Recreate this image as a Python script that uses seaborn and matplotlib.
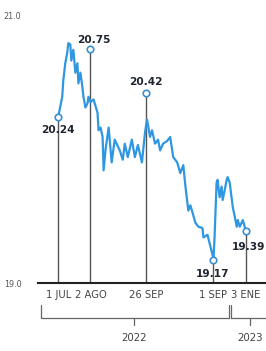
import matplotlib
matplotlib.use("Agg")
import matplotlib.pyplot as plt
import seaborn as sns
import pandas as pd
import numpy as np

# ---- data ----
days_from_jul1 = [0, 4, 5, 7, 9, 10, 12, 13, 15, 17, 19, 20, 22, 24, 25, 27, 29, 30, 32, 35,
                  39, 40, 42, 44, 45, 47, 50, 53, 56, 61, 64, 66, 69, 73, 76, 79, 83, 86, 88,
                  89, 91, 93, 96, 99, 101, 104, 108, 111, 114, 118, 121, 124, 126, 129, 131,
                  133, 136, 139, 143, 144, 148, 150, 153, 154, 155, 157, 158, 160, 162, 163,
                  165, 167, 168, 170, 173, 177, 178, 180, 183, 186]
rate = [20.24, 20.39, 20.51, 20.64, 20.72, 20.79, 20.78, 20.66, 20.74, 20.57, 20.64, 20.49,
        20.57, 20.46, 20.39, 20.31, 20.34, 20.39, 20.35, 20.37, 20.27, 20.14, 20.16, 20.09,
        19.84, 20.00, 20.16, 19.90, 20.07, 19.99, 19.92, 20.04, 19.94, 20.07, 19.94, 20.03,
        19.90, 20.12, 20.22, 20.18, 20.09, 20.14, 20.04, 20.07, 19.99, 20.04, 20.06, 20.09,
        19.94, 19.90, 19.82, 19.88, 19.73, 19.54, 19.58, 19.53, 19.45, 19.42, 19.41, 19.34,
        19.36, 19.30, 19.21, 19.19, 19.34, 19.75, 19.77, 19.64, 19.72, 19.62, 19.69, 19.77,
        19.79, 19.75, 19.57, 19.42, 19.47, 19.42, 19.47, 19.39]

marker_dates = ["2022-07-01", "2022-08-02", "2022-09-26", "2022-12-01", "2023-01-03"]
marker_values = [20.24, 20.75, 20.42, 19.17, 19.39]
marker_labels = ["20.24", "20.75", "20.42", "19.17", "19.39"]
tick_labels = ["1 JUL", "2 AGO", "26 SEP", "1 SEP", "3 ENE"]
y_ticks = [19.0, 21.0]
y_tick_labels = ["19.0", "21.0"]
years = ["2022", "2023"]

start = pd.Timestamp("2022-07-01")
df = pd.DataFrame({"fecha": start + pd.to_timedelta(days_from_jul1, unit="D"), "tc": rate})
mk = pd.DataFrame({"fecha": pd.to_datetime(marker_dates), "tc": marker_values})

sns.set_style("white")
plt.rcParams["font.family"] = ["DejaVu Sans"]

fig = plt.figure(figsize=(2.66, 3.51), dpi=100)
ax = fig.add_axes([0.143, 0.1937, 0.857, 0.7635])

# vertical drop lines
for d, v in zip(mk["fecha"], mk["tc"]):
    ax.plot([d, d], [19.0, v], color="#555555", lw=1.0, zorder=2)

sns.lineplot(data=df, x="fecha", y="tc", ax=ax, color="#2f97e2", lw=1.6, zorder=3)
sns.scatterplot(data=mk, x="fecha", y="tc", ax=ax, s=22, facecolor="white",
                edgecolor="#3a8fd0", linewidth=1.2, zorder=4)

# annotation labels
offsets = [(0, -13), (3, 9), (0, 11), (0, -14), (3, -16)]
for (d, v), lab, (dx, dy) in zip(zip(mk["fecha"], mk["tc"]), marker_labels, offsets):
    ax.annotate(lab, (d, v), xytext=(dx, dy), textcoords="offset pixels",
                ha="center", va="center", fontsize=7.6, fontweight="bold",
                color="#1e2530", zorder=5)

ax.set_xlim(start - pd.Timedelta(days=20), start + pd.Timedelta(days=206))
ax.set_ylim(19.0, 21.0)
ax.set_yticks(y_ticks)
ax.set_yticklabels(y_tick_labels, fontsize=5.8, color="#555555")
ax.set_xticks(mk["fecha"])
ax.set_xticklabels(tick_labels, fontsize=7.2, color="#444444")
ax.tick_params(axis="both", length=0)
ax.tick_params(axis="y", pad=12)
ax.tick_params(axis="x", pad=5)
ax.set_xlabel("")
ax.set_ylabel("")
for s in ["top", "right", "left"]:
    ax.spines[s].set_visible(False)
ax.spines["bottom"].set_color("#222222")
ax.spines["bottom"].set_linewidth(1.5)
ax.grid(False)

# year braces
tr = ax.get_xaxis_transform()
brace_col = "#666666"
y_top, y_bot, y_mid = -0.082, -0.13, -0.157
spans = [(start - pd.Timedelta(days=17), pd.Timestamp("2022-12-17")),
         (pd.Timestamp("2022-12-19"), start + pd.Timedelta(days=215))]
centers = [pd.Timestamp("2022-09-14"), pd.Timestamp("2023-01-07")]
for (a, b), c, yr in zip(spans, centers, years):
    ax.plot([a, a, b, b], [y_top, y_bot, y_bot, y_top], transform=tr, clip_on=False,
            color=brace_col, lw=0.9)
    ax.plot([c, c], [y_bot, y_mid], transform=tr, clip_on=False, color=brace_col, lw=0.9)
    ax.text(c, -0.205, yr, transform=tr, ha="center", va="center", fontsize=7.4,
            color="#444444")

fig.savefig("out.png", dpi=100, facecolor="white")
